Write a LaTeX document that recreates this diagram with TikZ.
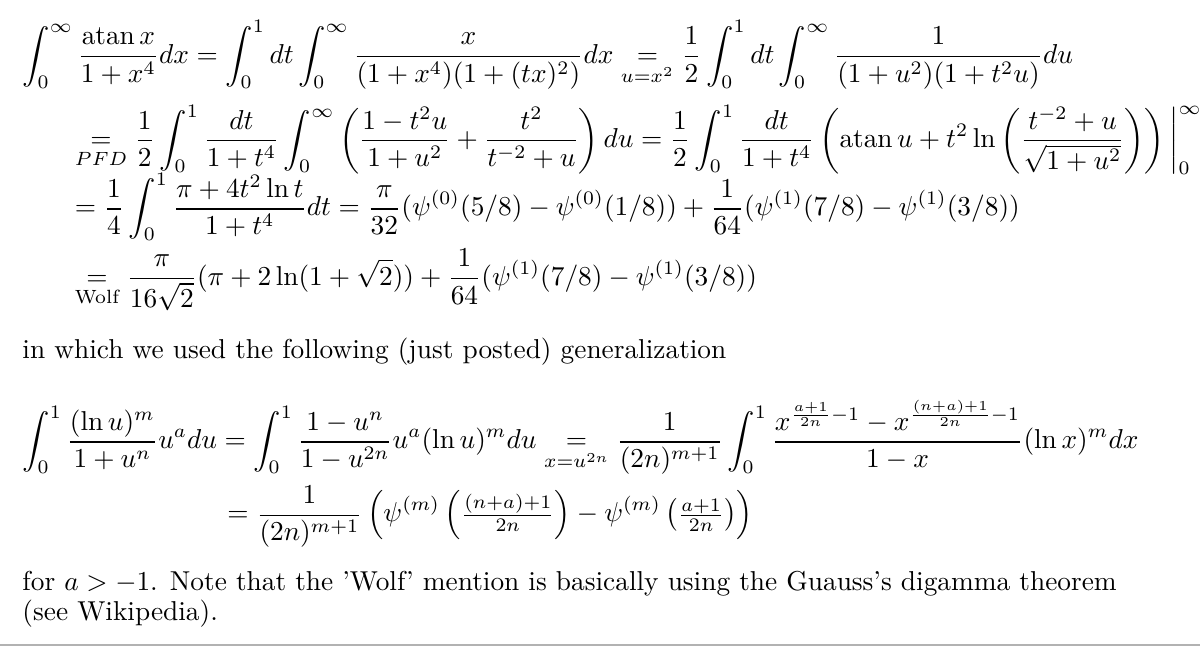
\documentclass[tikz,border=0pt]{standalone}
\usepackage{amsmath}
\DeclareMathOperator{\atan}{atan}
\begin{document}
\begin{tikzpicture}[x=0.892pt,y=0.892pt,eq/.style={anchor=base west,inner sep=0pt}]
\useasboundingbox (0,0) rectangle (492,-266);
\node[eq] (l1) at (9,-26) {$\displaystyle \int_0^\infty \frac{\atan x}{1+x^4}dx = \int_0^1 dt\int_0^\infty \frac{x}{(1+x^4)(1+(tx)^2)}dx \underset{u=x^2}{=} \frac12\int_0^1 dt\int_0^\infty\frac{1}{(1+u^2)(1+t^2u)}du$};
\node[eq] (l2) at (30.5,-60.5) {$\displaystyle \underset{PFD}{=} \frac12\int_0^1\frac{dt}{1+t^4}\int_0^\infty\left(\frac{1-t^2u}{1+u^2}+\frac{t^2}{t^{-2}+u}\right)du = \frac12\int_0^1\frac{dt}{1+t^4}\left(\atan u + t^2\ln\left(\frac{t^{-2}+u}{\sqrt{1+u^2}}\right)\right)\bigg|_0^\infty$};
\node[eq] (l3) at (30.5,-88.5) {$\displaystyle = \frac14\int_0^1\frac{\pi+4t^2\ln t}{1+t^4}dt = \frac{\pi}{32}(\psi^{(0)}(5/8)-\psi^{(0)}(1/8)) + \frac1{64}(\psi^{(1)}(7/8)-\psi^{(1)}(3/8))$};
\node[eq] (l4) at (30.5,-117) {$\displaystyle \underset{\text{Wolf}}{=}\frac{\pi}{16\sqrt2}(\pi+2\ln(1+\sqrt2)) + \frac1{64}(\psi^{(1)}(7/8)-\psi^{(1)}(3/8))$};
\node[eq] (t1) at (9,-147) {in which we used the following (just posted) generalization};
\node[eq] (l5) at (9,-184) {$\displaystyle \int_0^1\frac{(\ln u)^m}{1+u^n}u^a du = \int_0^1\frac{1-u^n}{1-u^{2n}}u^a(\ln u)^m du \underset{x=u^{2n}}{=}\frac{1}{(2n)^{m+1}}\int_0^1\frac{x^{\frac{a+1}{2n}-1}-x^{\frac{(n+a)+1}{2n}-1}}{1-x}(\ln x)^m dx$};
\node[eq] (l6) at (93,-214) {$\displaystyle = \frac{1}{(2n)^{m+1}}\left(\psi^{(m)}\left(\tfrac{(n+a)+1}{2n}\right)-\psi^{(m)}\left(\tfrac{a+1}{2n}\right)\right)$};
\node[eq] (t2) at (9,-242) {for $a>-1$. Note that the 'Wolf' mention is basically using the Guauss's digamma theorem};
\node[eq] (t3) at (9,-254.5) {(see Wikipedia).};
\draw[gray!60,line width=0.8pt] (0,-264.5) -- (492,-264.5);
\end{tikzpicture}
\end{document}
